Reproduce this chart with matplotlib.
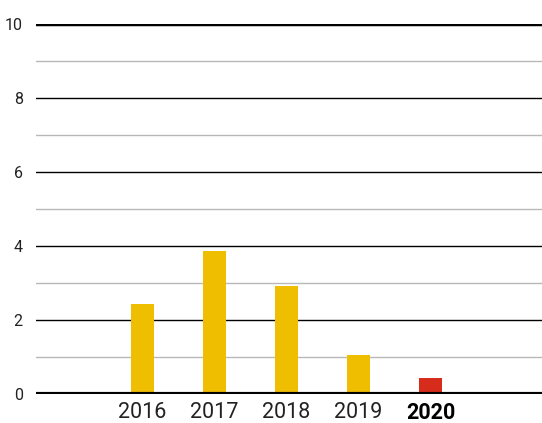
import matplotlib.pyplot as plt
import numpy as np

plt.rcParams['font.family'] = ['Roboto', 'DejaVu Sans']

years = ['2016', '2017', '2018', '2019', '2020']
values = [2.43, 3.86, 2.92, 1.05, 0.41]
bar_colors = ['#F0BE00', '#F0BE00', '#F0BE00', '#F0BE00', '#D72B1C']
major_ticks = [0, 2, 4, 6, 8, 10]
minor_ticks = [1, 3, 5, 7, 9]

fig = plt.figure(figsize=(5.42, 4.23), dpi=100)
ax = fig.add_axes([36 / 542, 29.5 / 423, 506 / 542, 369.5 / 423])

x = np.arange(len(years))
ax.bar(x, values, width=0.32, color=bar_colors, zorder=3)

# grid lines
for y in minor_ticks:
    ax.axhline(y, color='#b8b8b8', lw=1, zorder=1)
for y in major_ticks[1:-1]:
    ax.axhline(y, color='black', lw=1, zorder=1)
ax.axhline(0, color='black', lw=3, zorder=4)
ax.axhline(10, color='black', lw=2.5, zorder=4)

ax.set_xlim(-1.48, 5.55)
ax.set_ylim(0, 10)
ax.set_yticks(major_ticks)
ax.set_yticklabels([str(t) for t in major_ticks], fontsize=11.5, color='#222222')
ax.set_xticks(x)
ax.set_xticklabels(years, fontsize=15.5, color='#222222')
ax.get_xticklabels()[-1].set_fontweight('bold')
ax.get_xticklabels()[-1].set_color('black')
ax.tick_params(length=0)
ax.tick_params(axis='y', pad=9.5)
ax.tick_params(axis='x', pad=6)
for s in ax.spines.values():
    s.set_visible(False)

plt.savefig('out.png', dpi=100)
